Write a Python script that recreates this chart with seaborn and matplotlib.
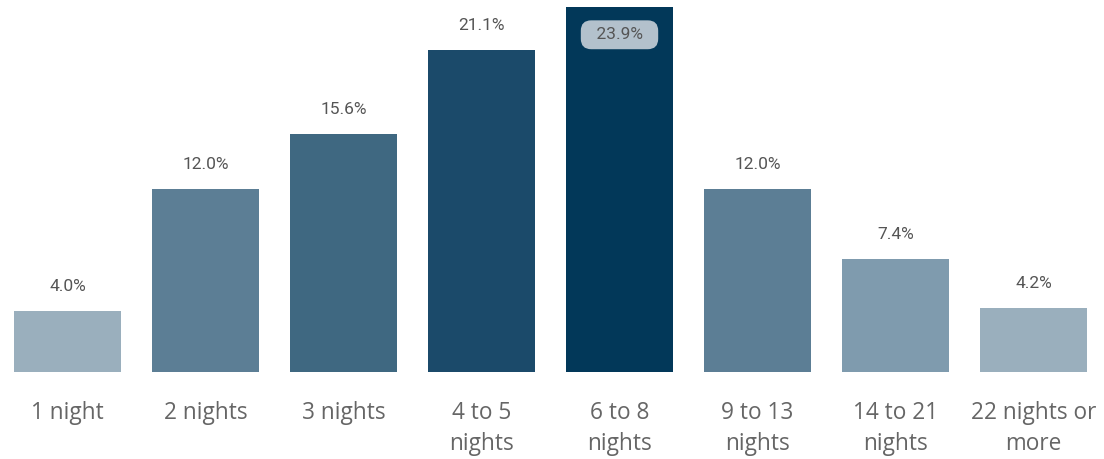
import pandas as pd
import numpy as np
import seaborn as sns
import matplotlib.pyplot as plt

categories = ["1 night", "2 nights", "3 nights", "4 to 5\nnights", "6 to 8\nnights",
              "9 to 13\nnights", "14 to 21\nnights", "22 nights or\nmore"]
shares = [4.0, 12.0, 15.6, 21.1, 23.9, 12.0, 7.4, 4.2]
bar_colors = ["#9aafbd", "#5c7e95", "#3f6881", "#1b4a6a", "#023859",
              "#5c7e95", "#7f9bae", "#9aafbd"]

data = pd.DataFrame({"stay": categories, "share": shares})

sns.set_style("white")
plt.rcParams['font.family'] = ['Open Sans', 'DejaVu Sans']

fig = plt.figure(figsize=(11.04, 4.59), dpi=100)
ax = fig.add_axes([-1.5 / 1104, 87 / 459, 1.0, 365 / 459])

sns.barplot(data=data, x="stay", y="share", hue="stay", palette=bar_colors,
            legend=False, width=0.775, saturation=1, linewidth=0, ax=ax)

ax.set_xlim(-0.5, 7.5)
ax.set_ylim(0, max(shares))
ax.set_xlabel("")
ax.set_ylabel("")
ax.set_yticks([])
sns.despine(ax=ax, left=True, bottom=True)
ax.tick_params(axis="x", length=0, pad=21, labelsize=16.3, labelcolor="#666666")
for lbl in ax.get_xticklabels():
    lbl.set_linespacing(1.4)

# Etiquettes de valeur
top = max(shares)
for i, v in enumerate(shares):
    if v == top:
        ax.annotate(f"  {v:.1f}%  ", (i, v), xytext=(0, -20), textcoords="offset points",
                    ha="center", va="center", fontsize=12.5, color="#555555",
                    family=['Roboto', 'DejaVu Sans'],
                    bbox=dict(boxstyle="round,pad=0.4,rounding_size=0.6",
                              fc="#b3c1cc", ec="none"))
    else:
        ax.annotate(f"{v:.1f}%", (i, v), xytext=(0, 17.8), textcoords="offset points",
                    ha="center", va="center", fontsize=12.5, color="#555555",
                    family=['Roboto', 'DejaVu Sans'])

fig.savefig("out.png", dpi=100)
